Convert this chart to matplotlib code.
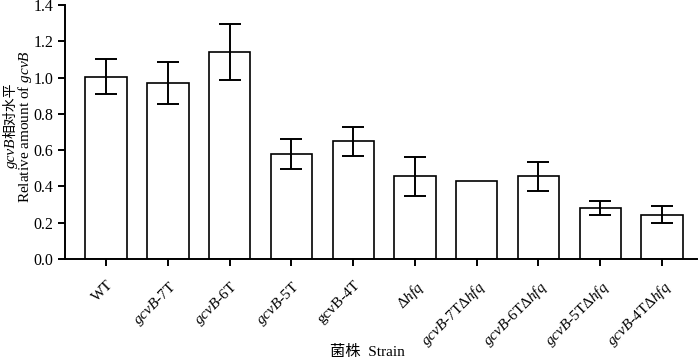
import matplotlib
matplotlib.use("Agg")
import matplotlib.pyplot as plt
import numpy as np

plt.rcParams['font.family'] = ['Liberation Serif', 'Noto Sans CJK SC']
plt.rcParams['mathtext.fontset'] = 'custom'
plt.rcParams['mathtext.rm'] = 'Liberation Serif'
plt.rcParams['mathtext.it'] = 'Liberation Serif:italic'

strains = ['WT', r'$\it{gcvB}$-7T', r'$\it{gcvB}$-6T', r'$\it{gcvB}$-5T', r'gcvB-4T',
           r'Δ$\it{hfq}$', r'$\it{gcvB}$-7TΔ$\it{hfq}$', r'$\it{gcvB}$-6TΔ$\it{hfq}$',
           r'$\it{gcvB}$-5TΔ$\it{hfq}$', r'$\it{gcvB}$-4TΔ$\it{hfq}$']
values = [1.005, 0.970, 1.140, 0.578, 0.650, 0.456, 0.432, 0.456, 0.281, 0.244]
errors = [0.097, 0.115, 0.154, 0.083, 0.080, 0.108, 0.0, 0.080, 0.037, 0.047]

W, H = 700, 360
fig = plt.figure(figsize=(7, 3.6), dpi=100)
ax = fig.add_axes([0.093, 0.281, 0.903, 0.705])
x = np.arange(len(strains))
ax.bar(x, values, width=0.67, color='white', edgecolor='black', linewidth=1.2, zorder=2)
idx = [i for i, e in enumerate(errors) if e > 0]
ax.errorbar(x[idx], [values[i] for i in idx], yerr=[errors[i] for i in idx], fmt='none',
            ecolor='black', elinewidth=1.4, capsize=8, capthick=1.4, zorder=3)
ax.set_xlim(-0.665, 9.57)
ax.set_ylim(0, 1.4)
yt = np.arange(0, 1.41, 0.2)
ax.set_yticks(yt)
ax.set_yticklabels([f'{v:.1f}' for v in yt], fontsize=11.5)
ax.set_xticks(x)
ax.set_xticklabels(strains, rotation=45, ha='right', rotation_mode='anchor', fontsize=11)
for s in ['top', 'right']:
    ax.spines[s].set_visible(False)
for s in ['left', 'bottom']:
    ax.spines[s].set_linewidth(1.4)
ax.tick_params(axis='both', direction='out', width=1.4, length=5)
ax.tick_params(axis='x', pad=9)

# y label, line 2
fig.text(25 / W, 1 - 127 / H, r'Relative amount of $\it{gcvB}$', rotation=90,
         ha='center', va='center', fontsize=11)
# y label, line 1 (mixed italic latin + CJK)
t1 = fig.text(0, 0, 'gcvB', rotation=90, rotation_mode='anchor', ha='right', va='baseline',
              fontsize=11, family='Liberation Serif', style='italic')
t2 = fig.text(0, 0, '相对水平', rotation=90, rotation_mode='anchor', ha='left', va='baseline',
              fontsize=10, family=['Noto Sans CJK SC'])
fig.canvas.draw()
r = fig.canvas.get_renderer()
h1 = t1.get_window_extent(r).height
h2 = t2.get_window_extent(r).height
yc = H - 125
ya = yc - (h1 + h2) / 2 + h1
for t in (t1, t2):
    t.set_position((14.5 / W, ya / H))

fig.text(367 / W, 0.004, '菌株  Strain', ha='center', va='bottom', fontsize=11)
fig.savefig('out.png', dpi=100)
